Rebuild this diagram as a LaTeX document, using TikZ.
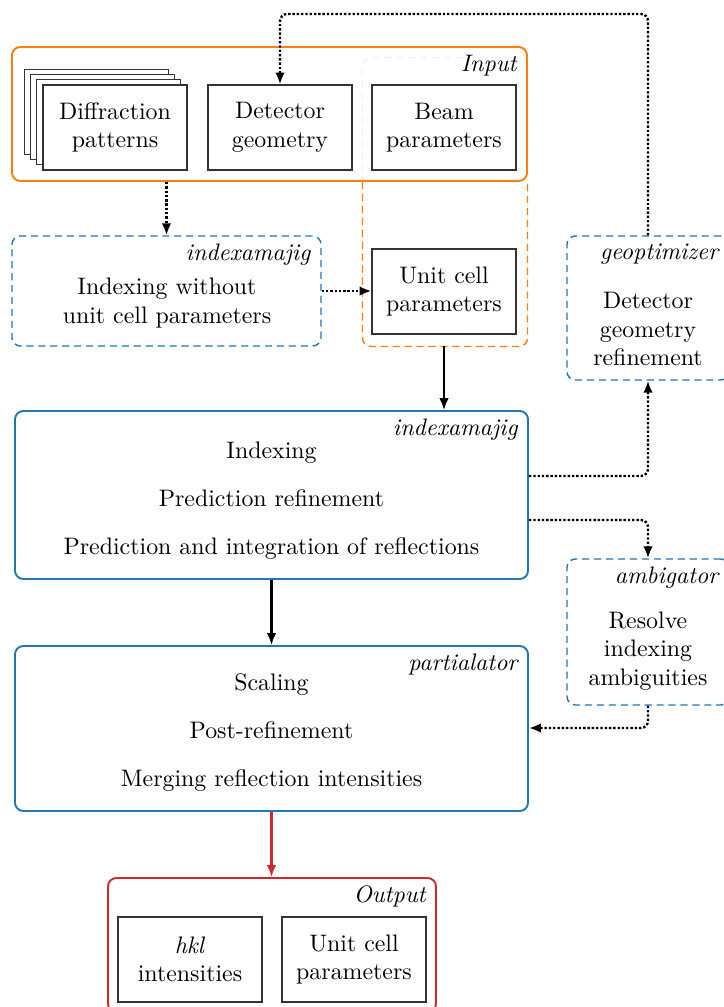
\documentclass[tikz,border=0pt]{standalone}
\usetikzlibrary{arrows.meta}
\newdimen\pxu \pxu=0.419pt
\definecolor{tabblue}{HTML}{1F77B4}
\definecolor{taborange}{HTML}{FF7F0E}
\definecolor{tabred}{HTML}{D62728}
\begin{document}
\begin{tikzpicture}[x=0.419pt,y=-0.419pt,
  box/.style={draw=black!80, line width=0.45pt, fill=white, minimum width=144*\pxu, minimum height=85*\pxu, align=center, inner sep=0pt},
  stackrect/.style={draw=black!80, line width=0.45pt, fill=white},
  frame/.style={rounded corners=3.5pt, inner sep=0pt},
  solidframe/.style={frame, line width=0.8pt},
  dashframe/.style={frame, line width=0.6pt, dash pattern=on 3pt off 2pt},
  tag/.style={anchor=north east, font=\itshape, inner sep=0pt, xshift=-4.6pt, yshift=-3.5pt},
  body/.style={align=center, inner sep=0pt},
  tip/.style={-{Latex[length=5pt,width=4pt]}},
  dotarrow/.style={tip, line width=1pt, dash pattern=on 1pt off 0.8pt},
  solidarrow/.style={tip, line width=0.9pt},
]
\useasboundingbox (0,0) rectangle (723,1007);

% Input group
\node[solidframe, draw=taborange, minimum width=515*\pxu, minimum height=134*\pxu] (input) at (269.5,114) {};
\node[tag] at (input.north east) {Input};

% unit cell frame (dashed orange)
\node[minimum width=164*\pxu, minimum height=288*\pxu, inner sep=0pt] (ucf) at (445,202) {};
\draw[dashframe, draw=taborange, opacity=0.12] (ucf.south west) rectangle (ucf.north east);
\draw[dashframe, draw=taborange] (ucf.west |- input.south) -- (ucf.south west) -- (ucf.south east) -- (ucf.east |- input.south);

% Stacked diffraction patterns
\foreach \k in {3,2,1} \draw[stackrect] (43-6.3*\k, 85-5.3*\k) rectangle ++(144,85);
\node[box] (diff) at (115,127.5) {Diffraction\\patterns};
\node[box] (det) at (280,127.5) {Detector\\geometry};
\node[box] (beam) at (444,127.5) {Beam\\parameters};
\node[box] (ucell) at (444,291.5) {Unit cell\\parameters};

% indexamajig (without cell)
\node[dashframe, draw=tabblue, minimum width=309*\pxu, minimum height=110*\pxu] (idx1) at (166.5,291) {};
\node[tag] at (idx1.north east) {indexamajig};
\node[body] (idx1t) at (167,303) {Indexing without\\unit cell parameters};

% geoptimizer
\node[dashframe, draw=tabblue, minimum width=162*\pxu, minimum height=144*\pxu] (geo) at (648,308) {};
\node[tag] at (geo.north east) {geoptimizer};
\node[body] (geot) at (648,329) {Detector\\geometry\\refinement};

% indexamajig main
\node[solidframe, draw=tabblue, minimum width=513*\pxu, minimum height=168*\pxu] (idx2) at (271.5,495) {};
\node[tag] at (idx2.north east) {indexamajig};
\node[body] (idx2t) at (271.5,500.5) {Indexing\\[8pt]Prediction refinement\\[8pt]Prediction and integration of reflections};

% ambigator
\node[dashframe, draw=tabblue, minimum width=162*\pxu, minimum height=146*\pxu] (amb) at (648,632) {};
\node[tag] at (amb.north east) {ambigator};
\node[body] (ambt) at (648,651) {Resolve\\indexing\\ambiguities};

% partialator
\node[solidframe, draw=tabblue, minimum width=513*\pxu, minimum height=165*\pxu] (part) at (271.5,728.5) {};
\node[tag] at (part.north east) {partialator};
\node[body] (partt) at (271.5,732.5) {Scaling\\[8pt]Post-refinement\\[8pt]Merging reflection intensities};

% Output
\node[solidframe, draw=tabred, minimum width=328*\pxu, minimum height=134*\pxu] (output) at (272,945) {};
\node[tag] at (output.north east) {Output};
\node[box] (hkl) at (190,959.5) {\textit{hkl}\\intensities};
\node[box] (ucell2) at (354,959.5) {Unit cell\\parameters};

% connectors
\coordinate (topline) at (0,14);
\draw[dotarrow] (idx1.north |- input.south) -- (idx1.north);
\draw[dotarrow] (idx1.east) -- (ucell.west |- idx1.east);
\draw[solidarrow] (ucell.south |- ucf.south) -- (ucell.south |- idx2.north);
\draw[solidarrow] (idx2.south) -- (part.north);
\draw[solidarrow, draw=tabred, fill=tabred] (part.south) -- (output.north -| part.south);
\draw[dotarrow, rounded corners=3pt] (geo.north) |- (det.north |- topline) -- (det.north);
\draw[dotarrow, rounded corners=3pt] (idx2.east |- 0,476) -| (geo.south);
\draw[dotarrow, rounded corners=3pt] (idx2.east |- 0,520) -| (amb.north);
\draw[dotarrow, rounded corners=3pt] (amb.south) |- (part.east |- 0,728);
\end{tikzpicture}
\end{document}
